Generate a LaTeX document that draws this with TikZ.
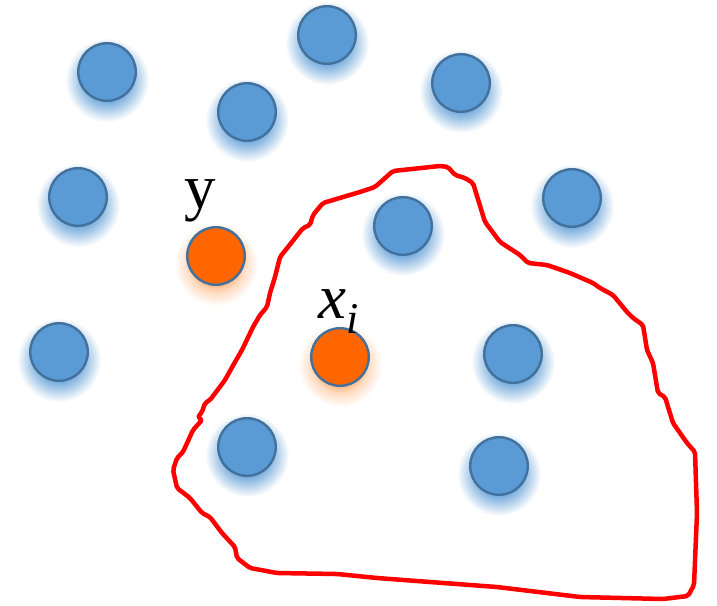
\documentclass[tikz,border=0pt]{standalone}
\usepackage{fontspec}
\setmainfont{Liberation Serif}
\definecolor{dotblue}{HTML}{5B9BD5}
\definecolor{dotline}{HTML}{41719C}
\definecolor{dotorange}{HTML}{FF6600}
\definecolor{glowblue}{HTML}{5B9BD5}
\definecolor{gloworange}{HTML}{FFA868}
\pgfdeclareradialshading{blueglow}{\pgfpoint{0bp}{0bp}}{color(0bp)=(glowblue); color(10bp)=(glowblue); color(17bp)=(glowblue!55!white); color(25bp)=(white); color(50bp)=(white)}
\pgfdeclareradialshading{orangeglow}{\pgfpoint{0bp}{0bp}}{color(0bp)=(gloworange); color(10bp)=(gloworange); color(17bp)=(gloworange!40!white); color(25bp)=(white); color(50bp)=(white)}
\begin{document}
\begin{tikzpicture}[x=1pt,y=-1pt,
  dot/.style={circle, draw=dotline, line width=2.4pt, minimum size=57.6pt, inner sep=0pt},
  bluedot/.style={dot, fill=dotblue},
  orangedot/.style={dot, fill=dotorange},
  region/.style={draw=red, line width=4.5pt, line join=round, rounded corners=2pt},
  lbl/.style={anchor=base west, inner sep=0pt, font=\fontsize{63}{63}\selectfont}]
\useasboundingbox (0,0) rectangle (717,605);
\fill[white] (0,0) rectangle (717,605);
% blue points
\foreach \n/\px/\py in {b1/107/72, b2/327/35, b3/461/83, b4/247/112, b5/78/197, b6/403/226, b7/572/198, b10/59/352, b11/513/354, b12/247/447, b13/499/466} {
  \shade[shading=blueglow] (\px,\py+8) circle (42);
  \node[bluedot] (\n) at (\px,\py) {};
}
% orange points
\foreach \n/\px/\py in {oy/216/256, ox/340/357} {
  \shade[shading=orangeglow] (\px,\py+8) circle (42);
  \node[orangedot] (\n) at (\px,\py) {};
}
% red region
\draw[region] (360,192) -- (375,187) -- (393,171) -- (440,166) -- (448,167) -- (455,175) -- (465,178) -- (473,183) -- (485,222) -- (500,242) -- (520,255) -- (528,263) -- (547,265) -- (570,273) -- (593,283) -- (600,288) -- (613,295) -- (627,312) -- (633,318) -- (643,325) -- (647,350) -- (653,363) -- (658,393) -- (665,397) -- (673,423) -- (680,433) -- (687,443) -- (695,452) -- (697,513) -- (694,585) -- (688,596) -- (663,599) -- (580,597) -- (497,587) -- (430,582) -- (377,578) -- (337,574) -- (277,573) -- (250,568) -- (237,558) -- (235,547) -- (222,533) -- (210,517) -- (202,513) -- (190,498) -- (177,488) -- (173,470) -- (177,458) -- (183,452) -- (193,430) -- (202,420) -- (198,417) -- (202,412) -- (205,403) -- (210,400) -- (225,380) -- (235,362) -- (242,350) -- (253,327) -- (260,315) -- (267,307) -- (270,293) -- (275,277) -- (280,257) -- (288,247) -- (303,228) -- (310,225) -- (313,215) -- (323,203) -- cycle;
% labels
\node[lbl] (ylab) at (184,208) {y};
\node[lbl] (xlab) at (318,318) {\itshape x\raisebox{-15pt}{\fontsize{44}{44}\selectfont i}};
\end{tikzpicture}
\end{document}
